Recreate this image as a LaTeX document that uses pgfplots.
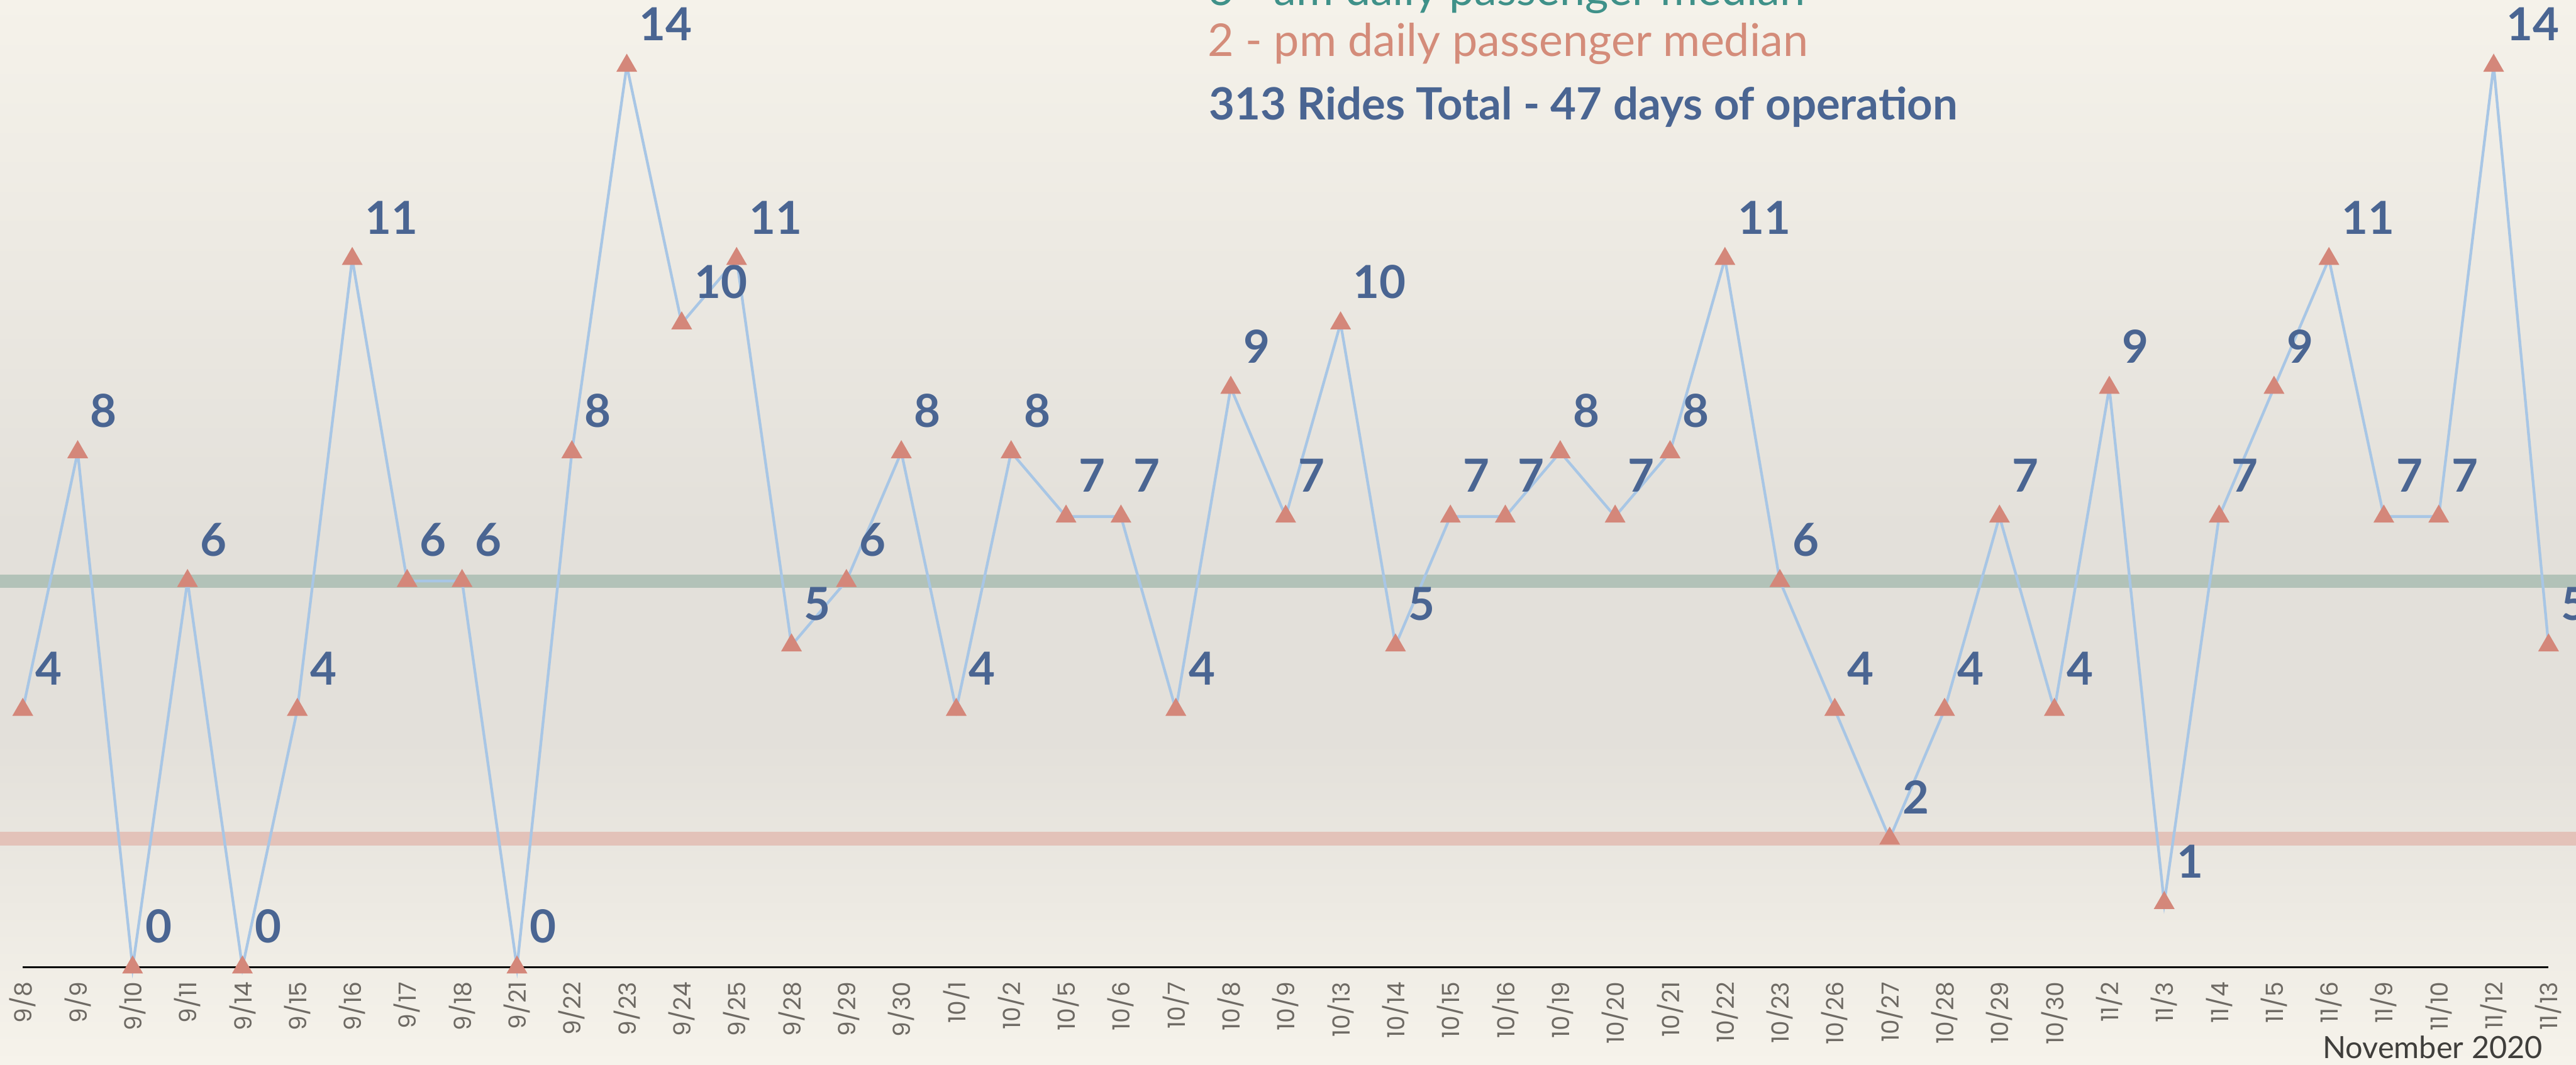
\documentclass[border=0pt]{standalone}
\usepackage{fontspec}
\setmainfont{Lato}
\newfontfamily\tickfont{Poppins}
\usepackage{pgfplots}
\usepackage{pgfplotstable}
\pgfplotsset{compat=1.18}

\definecolor{lblue}{HTML}{4A6592}
\definecolor{lineblue}{HTML}{A8C6E5}
\definecolor{tri}{HTML}{D4877A}
\definecolor{greenband}{HTML}{AABDB3}
\definecolor{pinkband}{HTML}{E3BCB3}
\definecolor{tealtext}{HTML}{3F9189}
\definecolor{salmontext}{HTML}{D48C7A}
\definecolor{tickgray}{HTML}{6E6A64}
\definecolor{notegray}{HTML}{3F3E3B}
\definecolor{bgtop}{HTML}{F5F2EA}
\definecolor{bgmid}{HTML}{E3E0DA}
\definecolor{bgbot}{HTML}{F6F3EB}

\pgfplotstableread{
x y
0 4
1 8
2 0
3 6
4 0
5 4
6 11
7 6
8 6
9 0
10 8
11 14
12 10
13 11
14 5
15 6
16 8
17 4
18 8
19 7
20 7
21 4
22 9
23 7
24 10
25 5
26 7
27 7
28 8
29 7
30 8
31 11
32 6
33 4
34 2
35 4
36 7
37 4
38 9
39 1
40 7
41 9
42 11
43 7
44 7
45 14
46 5
}\ridedata

\begin{document}
\begin{tikzpicture}[x=1cm,y=1cm]
\path[use as bounding box] (0,0) rectangle (24.84,10.27);
\shade[bottom color=bgbot, top color=bgmid] (0,0) rectangle (24.84,3.13);
\fill[bgmid] (0,3.1) rectangle (24.84,5.18);
\shade[bottom color=bgmid, top color=bgtop] (0,5.15) rectangle (24.84,10.27);

\begin{axis}[
  at={(0,0)}, anchor=south west,
  scale only axis, width=24.84cm, height=10.27cm,
  xmin=-0.415, xmax=46.5, ymin=-1.51, ymax=15.02,
  clip=false,
  axis line style={draw=none},
  tick style={draw=none},
  ytick=\empty,
  xtick={0,...,46},
  xticklabels={9/8,9/9,9/10,9/11,9/14,9/15,9/16,9/17,9/18,9/21,9/22,9/23,9/24,9/25,9/28,9/29,9/30,10/1,10/2,10/5,10/6,10/7,10/8,10/9,10/13,10/14,10/15,10/16,10/19,10/20,10/21,10/22,10/23,10/26,10/27,10/28,10/29,10/30,11/2,11/3,11/4,11/5,11/6,11/9,11/10,11/12,11/13},
  xticklabel style={rotate=90, anchor=east, inner sep=0pt, font=\tickfont\fontsize{6.5}{7.5}\selectfont, text=tickgray},
  xticklabel shift=-0.805cm,
  /pgf/number format/assume math mode=true,
]
\addplot[greenband, line width=3.6pt, opacity=0.85] coordinates {(-0.5,6) (46.6,6)};
\addplot[pinkband, line width=3.8pt, opacity=0.85] coordinates {(-0.5,2) (46.6,2)};
\addplot[black, line width=0.5pt] coordinates {(0,0) (46,0)};
\addplot[lineblue, line width=0.75pt, mark=none] table[x=x,y=y] {\ridedata};
\addplot[color=tri, only marks, mark=triangle*, mark size=3.1pt,
  mark options={solid, fill=tri, draw=tri, line width=0.2pt},
  point meta=y,
  nodes near coords={\pgfmathprintnumber[int detect]{\pgfplotspointmeta}},
  nodes near coords style={anchor=base west, xshift=0.12cm, yshift=0.24cm, inner sep=0pt,
     text=lblue, font=\bfseries\fontsize{12.5}{15}\selectfont}]
  table[x=x,y=y] {\ridedata};
\end{axis}

\node[anchor=base west, inner sep=0pt, text=tealtext, font=\fontsize{12.4}{14}\selectfont] at (11.64,10.22) {6 - am daily passenger median};
\node[anchor=base west, inner sep=0pt, text=salmontext, font=\fontsize{12.4}{14}\selectfont] at (11.64,9.73) {2 - pm daily passenger median};
\node[anchor=base west, inner sep=0pt, text=lblue, font=\bfseries\fontsize{12.2}{14}\selectfont] at (11.65,9.115) {313 Rides Total - 47 days of operation};
\node[anchor=base east, inner sep=0pt, text=notegray, font=\fontsize{8.4}{9.5}\selectfont] at (24.525,0.06) {November 2020};
\end{tikzpicture}
\end{document}
